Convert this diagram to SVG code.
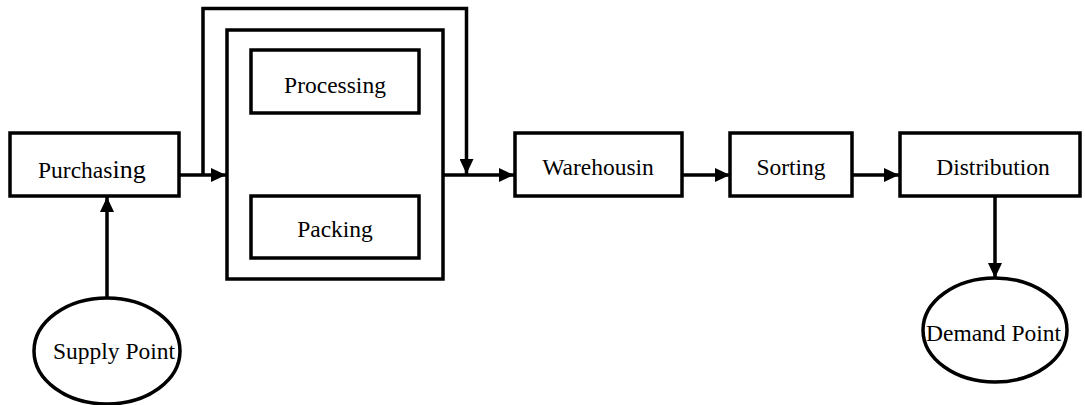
<svg xmlns="http://www.w3.org/2000/svg" width="1085" height="405" viewBox="0 0 1085 405">
<style>
.box{fill:#fff;stroke:#000;stroke-width:3.5}
.ln{fill:none;stroke:#000;stroke-width:3.5}
.t{font-family:"Liberation Serif","Times New Roman",serif;font-size:23.5px;fill:#000}
</style>
<defs>
<marker id="ah" viewBox="0 0 15 14" refX="15" refY="7" markerWidth="15" markerHeight="14" markerUnits="userSpaceOnUse" orient="auto">
<path d="M0,0 L15,7 L0,14 Z" fill="#000"/>
</marker>
</defs>
<g id="connectors">
<path class="ln" d="M179,175 H226" marker-end="url(#ah)"/>
<path class="ln" d="M203,175 V8.5 H466.5 V174" marker-end="url(#ah)"/>
<path class="ln" d="M443,175 H514" marker-end="url(#ah)"/>
<path class="ln" d="M682,175 H730" marker-end="url(#ah)"/>
<path class="ln" d="M852,175 H899" marker-end="url(#ah)"/>
<path class="ln" d="M107,298 V197" marker-end="url(#ah)"/>
<path class="ln" d="M995,196 V278" marker-end="url(#ah)"/>
</g>
<g id="purchasing">
<rect class="box" x="10" y="133" width="169" height="63"/>
<text class="t" x="38" y="178">Purchas<tspan font-size="26">ing</tspan></text>
</g>
<g id="container">
<rect class="box" x="227" y="30" width="216" height="249"/>
</g>
<g id="processing">
<rect class="box" x="251" y="50" width="168" height="63"/>
<text class="t" x="335" y="93" text-anchor="middle">Processing</text>
</g>
<g id="packing">
<rect class="box" x="251" y="196" width="168" height="62"/>
<text class="t" x="335" y="237" text-anchor="middle">Packing</text>
</g>
<g id="warehousing">
<rect class="box" x="515" y="133" width="167" height="63"/>
<text class="t" x="598" y="175" text-anchor="middle">Warehousin</text>
</g>
<g id="sorting">
<rect class="box" x="730" y="133" width="122" height="63"/>
<text class="t" x="791" y="175" text-anchor="middle">Sorting</text>
</g>
<g id="distribution">
<rect class="box" x="900" y="133" width="180" height="63"/>
<text class="t" x="993" y="175" text-anchor="middle">Distribution</text>
</g>
<g id="supply">
<ellipse class="box" cx="107" cy="351" rx="73" ry="53"/>
<text class="t" x="53" y="359">Supply Point</text>
</g>
<g id="demand">
<ellipse class="box" cx="995" cy="330" rx="72" ry="52"/>
<text class="t" x="926" y="341">Demand Point</text>
</g>
</svg>
